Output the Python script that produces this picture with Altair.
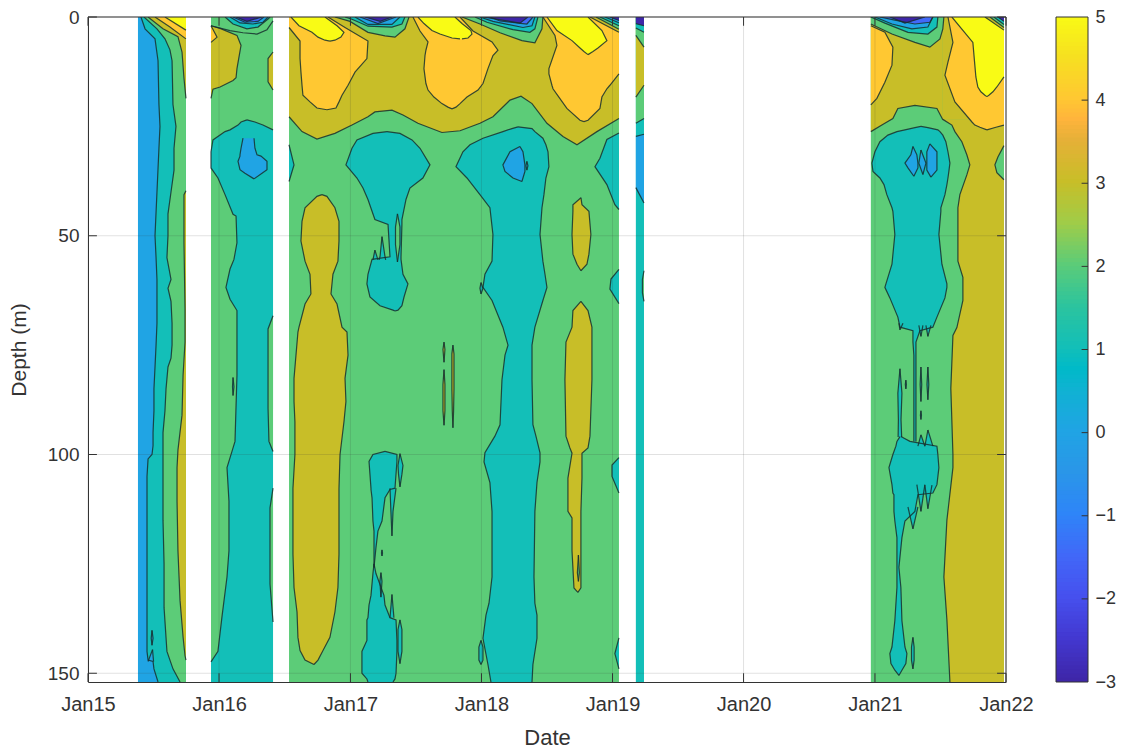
import numpy as np
import pandas as pd
import altair as alt

# Temperature bands (contour fill value)
IN, D1, BL, TE, GR, OL, GO, YE = -3, -1.5, 0, 1, 2, 3, 4, 5

# Time is in years since Jan 2015; depth in metres.
A0, A1, B0, B1, C0, C1, D0, D1X, E0, E1 = .381, .747, .938, 1.411, 1.533, 4.049, 4.178, 4.24, 5.97, 6.985
EDGES = {A0, A1, B0, B1, C0, C1, D0, D1X, E0, E1}
MAX_DEPTH = 152

# ---- bands whose boundary is read as depth against time: (level, times, bottom, top, outline)
under = [
    (BL, [A0, A1], [MAX_DEPTH] * 2, None, False),
    (GR, [B0, B1], [MAX_DEPTH] * 2, None, False),
    (GR, [C0, C1], [MAX_DEPTH] * 2, None, False),
    (GR, [E0, E1], [MAX_DEPTH] * 2, None, False),
    (TE, [D0, D1X], [MAX_DEPTH] * 2, None, False),
    (BL, [D0, D1X], [39, 42.5], [27.3, 26.8], True),
    (GR, [D0, D1X], [24.3, 23.2], None, True),
    (OL, [D0, D1X], [18.3, 15.6], None, True),
    (GR, [D0, D1X], [4.2, 6.9], None, True),
    (TE, [D0, D1X], [2.5, 3.5], None, True),
    (IN, [D0, D1X], [1.5, 2], None, True),
    (OL, [1.533, 1.632, 1.746, 1.883, 2.013, 2.135, 2.188, 2.318, 2.402, 2.516, 2.699, 2.837, 2.989, 3.088,
          3.218, 3.302, 3.386, 3.5, 3.622, 3.729, 3.881, 4.049],
     [22.8, 26.2, 27.9, 26.6, 24.7, 22.8, 21.7, 21.3, 22.4, 24.3, 26.4, 26, 24.3, 22.8,
      19, 18.1, 19.8, 24.3, 27.3, 29.2, 26.2, 23.2], None, True),
    (OL, [5.97, 6.054, 6.138, 6.176, 6.306, 6.474, 6.519], [26.2, 24.7, 23.2, 20.9, 20.2, 20.9, 23.5], None, True),
    (OL, [6.519, 6.985], [23.5, 23.5], None, False),
]

# ---- regions read as time extent against depth: (level, [(depth, from, to), ...])
seg_a = [
    (TE, [(0, .404, A1), (2.7, .435, A1), (5, .511, A1), (10, .534, A1), (20, .541, A1), (25, .549, A1), (30, .541, A1),
          (40, .526, A1), (50, .511, A1), (55, .519, A1), (60, .526, A1), (65, .526, A1), (70, .526, A1), (75, .519, A1),
          (80, .511, A1), (85, .503, A1), (90, .503, A1), (95, .496, A1), (98, .496, A1), (100, .488, A1), (101, .458, A1),
          (105, .45, A1), (120, .45, A1), (130, .45, A1), (140, .45, A1), (145, .45, A1), (147, .458, A1), (147.3, .496, A1),
          (149, .503, A1), (152, .534, A1)]),
    (BL, [(144.6, .492, .492), (147.3, .458, .5)]),
    (BL, [(140.2, .488, .488), (142, .482, .496), (143.6, .488, .488)]),
    (GR, [(0, .427, A1), (2.7, .526, A1), (5, .587, A1), (7.5, .625, A1), (10, .641, A1), (20, .648, A1), (25, .671, A1),
          (30, .656, A1), (35, .656, A1), (40, .633, A1), (45, .61, A1), (50, .61, A1), (55, .602, A1), (60, .633, A1),
          (62, .61, A1), (65, .633, A1), (70, .641, A1), (75, .641, A1), (78, .633, A1), (80, .61, A1), (85, .595, A1),
          (90, .587, A1), (95, .572, A1), (100, .572, A1), (115, .572, A1), (125, .58, A1), (135, .58, A1), (145, .602, A1),
          (147, .625, A1), (149, .648, A1), (152, .702, A1)]),
    (OL, [(0, .458, A1), (2.7, .572, A1), (4.5, .686, A1), (8, .717, A1), (14, .732, A1), (18.6, A1, A1)]),
    (GO, [(0, .511, A1), (2.3, .625, A1), (5, A1, A1)]),
    (YE, [(0, .587, A1), (3, A1, A1)]),
    (OL, [(39.7, A1, A1), (40.6, .732, A1), (51.6, .732, A1), (66.7, .74, A1), (74.3, .74, A1), (81.9, .725, A1),
          (91, .717, A1), (99, .686, A1), (103, .679, A1), (110.7, .679, A1), (122, .686, A1), (133.4, .702, A1),
          (141.7, .725, A1), (146, .74, A1), (147, A1, A1)]),
]

seg_b = [
    (OL, [(2, B0, B0), (2.6, B0, 1.007), (4.2, B0, 1.136), (6.5, B0, 1.167), (11.8, B0, 1.136), (13.9, B0, 1.129),
          (14.5, B0, 1.106), (16, B0, 1.007), (16.5, B0, .953), (18.6, B0, B0)]),
    (GO, [(2, B0, B0), (4.6, B0, .984), (5.8, B0, B0)]),
    (OL, [(8, B1, B1), (9.5, 1.373, B1), (14.8, 1.373, B1), (16.7, B1, B1)]),
    (TE, [(23.5, 1.212, 1.212), (24, 1.167, 1.273), (24.7, 1.144, 1.334), (25.8, 1.083, B1), (26.2, 1.045, B1),
          (28.1, .953, B1), (30.8, B0, B1), (34.5, B0, B1), (36.8, .991, B1), (40.6, 1.045, B1), (45.1, 1.106, B1),
          (45.5, 1.129, B1), (51.6, 1.136, B1), (55.4, 1.113, B1), (57.6, 1.083, B1), (61.8, 1.052, B1), (64.5, 1.083, B1),
          (67.1, 1.136, B1), (81.9, 1.136, B1), (97, 1.121, B1), (99.3, 1.098, B1), (103, 1.06, B1), (110.7, 1.075, B1),
          (122, 1.075, B1), (128, 1.06, B1), (137, 1.022, B1), (145, .991, B1), (147.4, B0, B1), (152, B0, B1)]),
    (GR, [(68.3, B1, B1), (71.3, 1.373, B1), (89.5, 1.373, B1), (97, 1.38, B1), (99.3, B1, B1)]),
    (GR, [(107.7, B1, B1), (112.2, 1.388, B1), (129.6, 1.388, B1), (138.3, B1, B1)]),
    (BL, [(27.7, 1.182, 1.266), (30, 1.167, 1.273), (31.5, 1.159, 1.289), (31.8, 1.159, 1.319), (33, 1.144, 1.365),
          (34.9, 1.159, 1.365), (35.7, 1.197, 1.327), (37, 1.266, 1.266)]),
    (TE, [(82.4, 1.106, 1.106), (84.5, 1.102, 1.113), (86.5, 1.106, 1.106)]),
]

seg_c = [
    (GO, [(0, C0, 1.83), (2.4, C0, 1.96), (5.5, 1.617, 2.135), (9.5, 1.617, 2.127), (12.6, 1.624, 2.036), (15.6, 1.632, 1.983),
          (17.9, 1.639, 1.937), (19.4, 1.693, 1.914), (20.8, 1.746, 1.891), (21.2, 1.822, 1.822)]),
    (YE, [(0, 1.548, 1.807), (2, 1.609, 1.899), (3.5, 1.708, 1.952), (4.6, 1.754, 1.929), (5.3, 1.807, 1.883), (5.5, 1.845, 1.845)]),
    (GO, [(0, 2.478, 2.837), (3.2, 2.532, 2.936), (5.7, 2.593, 3.081), (7.6, 2.577, 3.126), (8.8, 2.57, 3.088), (11.8, 2.562, 3.05),
          (15.2, 2.577, 3.012), (16.7, 2.593, 2.974), (18.3, 2.638, 2.89), (19.8, 2.699, 2.837), (20.6, 2.745, 2.806), (21, 2.776, 2.776)]),
    (YE, [(0, 2.516, 2.798), (1.5, 2.562, 2.852), (3.1, 2.623, 2.92), (3.9, 2.684, 2.928), (4.8, 2.776, 2.898), (5, 2.837, 2.852)]),
    (GO, [(0, 3.469, C1), (4.2, 3.561, C1), (6.5, 3.576, C1), (11.8, 3.515, C1), (13, 3.515, C1), (15.6, 3.538, 3.98),
          (16.4, 3.546, 3.957), (18.3, 3.591, 3.919), (20.9, 3.652, 3.904), (23.6, 3.752, 3.813), (23.9, 3.782, 3.782)]),
    (YE, [(0, 3.5, 3.813), (3.1, 3.576, 3.919), (5.4, 3.691, 3.957), (7.1, 3.752, 3.889), (7.9, 3.782, 3.851), (8.6, 3.813, 3.813)]),
    (TE, [(29.2, C0, C0), (33.8, C0, 1.571), (37.6, C0, C0)]),
    (TE, [(26.2, 2.28, 2.28), (26.6, 2.173, 2.379), (28.1, 2.051, 2.471), (30, 2.013, 2.532), (33.8, 1.967, 2.608), (36.8, 2.051, 2.554),
          (39.1, 2.097, 2.455), (41.7, 2.135, 2.425), (46.3, 2.188, 2.394), (47.4, 2.288, 2.394), (54.8, 2.303, 2.387), (55.4, 2.166, 2.387),
          (58.8, 2.135, 2.402), (61, 2.127, 2.44), (64, 2.15, 2.41), (66, 2.227, 2.394), (67, 2.326, 2.364), (67.2, 2.341, 2.341)]),
    (TE, [(50.2, 2.242, 2.242), (54.8, 2.227, 2.265), (55.5, 2.22, 2.27)]),
    (TE, [(53.3, 2.188, 2.188), (55.5, 2.173, 2.211)]),
    (GR, [(45, 2.36, 2.36), (48, 2.345, 2.379), (52, 2.345, 2.379), (56, 2.36, 2.36)]),
    (OL, [(40.6, 1.784, 1.784), (41, 1.746, 1.822), (43.6, 1.655, 1.883), (46.7, 1.632, 1.914), (51.2, 1.624, 1.914), (55.8, 1.655, 1.906),
          (58.8, 1.693, 1.868), (63.3, 1.7, 1.853), (65.6, 1.655, 1.899), (70.9, 1.609, 1.937), (72, 1.601, 1.975), (77.3, 1.586, 1.983),
          (82.6, 1.571, 1.96), (87.9, 1.571, 1.967), (92.5, 1.578, 1.952), (100, 1.578, 1.922), (107.7, 1.563, 1.914), (122.8, 1.563, 1.914),
          (130.4, 1.571, 1.906), (136, 1.594, 1.883), (141.8, 1.601, 1.845), (144.8, 1.617, 1.792), (147, 1.655, 1.754), (148, 1.723, 1.723)]),
    (OL, [(74.3, 2.715, 2.715), (76, 2.707, 2.722), (78.9, 2.715, 2.715)]),
    (OL, [(80.6, 2.715, 2.715), (84, 2.707, 2.722), (90, 2.707, 2.722), (93.3, 2.715, 2.715)]),
    (OL, [(75, 2.783, 2.783), (77, 2.775, 2.791), (85, 2.775, 2.791), (90, 2.778, 2.788), (93.9, 2.783, 2.783)]),
    (TE, [(99.3, 2.265, 2.265), (100, 2.173, 2.356), (101.6, 2.143, 2.356), (107.7, 2.158, 2.341), (108, 2.158, 2.303), (109.9, 2.166, 2.265),
          (115.2, 2.173, 2.242), (117.5, 2.181, 2.211), (121.3, 2.181, 2.196), (125.8, 2.181, 2.181)]),
    (TE, [(107.7, 2.303, 2.349), (113, 2.31, 2.326), (118.6, 2.318, 2.318)]),
    (TE, [(99.8, 2.379, 2.379), (102.5, 2.364, 2.402), (104.5, 2.368, 2.394), (107.4, 2.379, 2.379)]),
    (TE, [(121.8, 2.242, 2.242), (122.5, 2.238, 2.246), (123.2, 2.242, 2.242)]),
    (TE, [(127, 2.234, 2.234), (129, 2.226, 2.242), (132.6, 2.234, 2.234)]),
    (TE, [(125, 2.181, 2.181), (127.2, 2.173, 2.196), (132.2, 2.158, 2.257), (134.4, 2.143, 2.265), (137.3, 2.135, 2.303), (137.8, 2.127, 2.349),
          (142.5, 2.127, 2.356), (143.5, 2.112, 2.356), (145, 2.089, 2.356), (150, 2.089, 2.349), (151.3, 2.127, 2.341), (152, 2.135, 2.326)]),
    (TE, [(132, 2.318, 2.318), (137.3, 2.303, 2.333)]),
    (TE, [(137.8, 2.379, 2.379), (140, 2.364, 2.394), (145, 2.364, 2.394), (147.8, 2.379, 2.379)]),
    (TE, [(25.1, 3.279, 3.279), (25.5, 3.233, 3.386), (26.2, 3.164, 3.408), (27.7, 3.012, 3.469), (29.2, 2.913, 3.492), (30.8, 2.859, 3.508),
          (34.2, 2.806, 3.515), (36.8, 2.89, 3.492), (40.6, 2.989, 3.477), (43.6, 3.065, 3.462), (49.7, 3.088, 3.447), (55.8, 3.081, 3.469),
          (58.8, 3.027, 3.485), (61.8, 3.012, 3.5), (64.8, 3.081, 3.469), (70.9, 3.164, 3.408), (75, 3.203, 3.386), (77.3, 3.18, 3.386),
          (82.9, 3.157, 3.386), (93.2, 3.142, 3.393), (95.8, 3.103, 3.416), (99.6, 3.027, 3.447), (101.7, 3.02, 3.447), (106.4, 3.065, 3.424),
          (113, 3.081, 3.408), (128, 3.081, 3.401), (134, 3.058, 3.408), (136.7, 3.035, 3.424), (142, 3.012, 3.424), (148, 3.05, 3.393), (152, 3.073, 3.386)]),
    (TE, [(142.5, 2.997, 2.997), (144, 2.981, 3.012), (147, 2.981, 3.012), (148, 2.997, 2.997)]),
    (TE, [(60.7, 2.997, 2.997), (62, 2.989, 3.012), (63.3, 2.997, 2.997)]),
    (BL, [(29.6, 3.294, 3.294), (30.8, 3.218, 3.317), (33.8, 3.164, 3.332), (35.3, 3.18, 3.332), (36.8, 3.241, 3.317), (37.6, 3.309, 3.309)]),
    (BL, [(33, 3.347, 3.347), (34, 3.34, 3.355), (35, 3.347, 3.347)]),
    (TE, [(26.5, C1, C1), (28, 3.957, C1), (32.3, 3.904, C1), (34.2, 3.866, C1), (38.3, 3.957, C1), (42.9, 4.018, C1), (44, C1, C1)]),
    (TE, [(57.7, C1, C1), (59.9, 3.988, C1), (62.2, 3.98, C1), (65.5, C1, C1)]),
    (TE, [(100.7, C1, C1), (102.4, 3.996, C1), (105, 3.996, C1), (108.8, C1, C1)]),
    (TE, [(141.9, C1, C1), (145.5, 4.018, C1), (149, C1, C1)]),
    (OL, [(41.3, 3.759, 3.759), (42.9, 3.698, 3.767), (44.4, 3.698, 3.82), (49.7, 3.691, 3.835), (54.2, 3.698, 3.82), (56.5, 3.729, 3.805), (58, 3.759, 3.759)]),
    (OL, [(65, 3.759, 3.759), (67.1, 3.698, 3.813), (70.9, 3.691, 3.843), (74.3, 3.645, 3.843), (82.9, 3.637, 3.843), (95.8, 3.645, 3.828), (98.5, 3.675, 3.813),
          (99.7, 3.691, 3.767), (105.4, 3.66, 3.767), (113, 3.66, 3.759), (114.5, 3.691, 3.759), (122, 3.691, 3.759), (130.5, 3.706, 3.759), (131.5, 3.736, 3.736)]),
    (GR, [(123, 3.74, 3.74), (127, 3.732, 3.747), (129, 3.74, 3.74)]),
    (GR, [(58, D1X, D1X), (60, 4.228, D1X), (63, 4.228, D1X), (65, D1X, D1X)]),
]

seg_e = [
    (OL, [(23.4, 6.519, E1), (24.7, 6.588, E1), (26.2, 6.611, E1), (28.5, 6.664, E1), (31.5, 6.702, E1), (33.8, 6.725, E1), (36.1, 6.702, E1),
          (40.6, 6.649, E1), (43.6, 6.634, E1), (55.8, 6.634, E1), (59.5, 6.672, E1), (64.8, 6.672, E1), (71, 6.626, E1), (72.8, 6.596, E1),
          (84.9, 6.58, E1), (100, 6.596, E1), (103, 6.596, E1), (115, 6.55, E1), (128, 6.527, E1), (137.8, 6.55, E1), (152, 6.573, E1)]),
    (GR, [(29.4, E1, E1), (32, 6.939, E1), (33.8, 6.916, E1), (35.6, 6.931, E1), (37.2, E1, E1)]),
    (GO, [(2, E0, E0), (3.5, E0, 6.077), (6.9, E0, 6.138), (11, E0, 6.131), (14.9, E0, 6.077), (18.6, E0, 6.016), (20.1, E0, E0)]),
    (GO, [(0, 6.558, E1), (5.8, 6.596, E1), (10.3, 6.558, E1), (13.3, 6.535, E1), (19.4, 6.611, E1), (24, 6.741, E1), (24.7, 6.763, E1),
          (25.2, 6.802, 6.924), (25.8, 6.855, 6.855)]),
    (YE, [(0, 6.588, E1), (5.8, 6.748, E1), (11, 6.763, E1), (13.7, 6.771, E1), (16, 6.786, 6.931), (17.1, 6.809, 6.901), (17.9, 6.84, 6.87), (18.2, 6.855, 6.855)]),
    (TE, [(25, 6.352, 6.352), (25.3, 6.306, 6.405), (25.8, 6.23, 6.481), (26.2, 6.169, 6.497), (27, 6.1, 6.519), (28.5, 6.039, 6.542), (30.8, 6.001, 6.558),
          (33.4, 5.978, 6.573), (35.3, 5.986, 6.565), (36.8, 6.039, 6.558), (38.3, 6.07, 6.55), (40.6, 6.092, 6.535), (43.6, 6.131, 6.504), (44.4, 6.138, 6.504),
          (49.7, 6.153, 6.489), (56.5, 6.131, 6.512), (61, 6.085, 6.55), (61.8, 6.077, 6.55), (64.2, 6.115, 6.535), (68.6, 6.176, 6.474), (70.9, 6.192, 6.443),
          (71.7, 6.291, 6.344), (74.3, 6.291, 6.314), (77.3, 6.298, 6.314), (92.5, 6.298, 6.314), (95.6, 6.298, 6.314), (97, 6.298, 6.314)]),
    (TE, [(70.5, 6.336, 6.367), (73, 6.352, 6.352)]),
    (TE, [(70.5, 6.39, 6.428), (73, 6.405, 6.405)]),
    (TE, [(70, 6.184, 6.215), (71.5, 6.192, 6.192)]),
    (TE, [(95.9, 6.192, 6.199), (97, 6.169, 6.268), (98.1, 6.161, 6.474), (100, 6.138, 6.481), (103, 6.108, 6.489), (106.9, 6.131, 6.474), (108.8, 6.138, 6.443),
          (109.2, 6.146, 6.329), (113, 6.146, 6.306), (115.2, 6.153, 6.23), (119, 6.169, 6.207), (125.8, 6.169, 6.184), (130.4, 6.169, 6.199), (138, 6.153, 6.207),
          (144, 6.131, 6.23), (145.5, 6.115, 6.245), (147.8, 6.123, 6.237), (149.3, 6.153, 6.207), (150.5, 6.184, 6.184)]),
    (TE, [(106.9, 6.321, 6.382), (113, 6.352, 6.352)]),
    (TE, [(107, 6.382, 6.436), (112.4, 6.405, 6.405)]),
    (TE, [(112, 6.253, 6.329), (117, 6.291, 6.291)]),
    (TE, [(94.4, 6.405, 6.405), (98.1, 6.382, 6.443)]),
    (TE, [(95.5, 6.352, 6.352), (98.1, 6.329, 6.382)]),
    (TE, [(80.4, 6.192, 6.192), (86, 6.176, 6.207), (92, 6.18, 6.2), (96, 6.178, 6.205)]),
    (TE, [(83, 6.237, 6.237), (84, 6.233, 6.241), (85, 6.237, 6.237)]),
    (TE, [(80, 6.352, 6.352), (84, 6.346, 6.358), (87.9, 6.352, 6.352)]),
    (TE, [(80, 6.405, 6.405), (84, 6.398, 6.412), (87.5, 6.405, 6.405)]),
    (TE, [(90, 6.352, 6.352), (91, 6.348, 6.356), (92, 6.352, 6.352)]),
    (TE, [(141.8, 6.291, 6.291), (144, 6.28, 6.3), (147, 6.28, 6.3), (149, 6.291, 6.291)]),
    (BL, [(29.6, 6.291, 6.291), (31.5, 6.275, 6.321), (33.4, 6.23, 6.329), (34.5, 6.253, 6.329), (36.4, 6.298, 6.298)]),
    (BL, [(30.4, 6.352, 6.352), (33.4, 6.336, 6.39), (36, 6.367, 6.367)]),
    (BL, [(29, 6.42, 6.42), (30.8, 6.397, 6.474), (35, 6.397, 6.474), (36.6, 6.428, 6.428)]),
]

# ---- near-surface tongues, drawn last: (level, times, bottom)
surface = [
    (GR, [.938, 1.083, 1.182, 1.289, 1.365, 1.411], [2, 3.1, 3.6, 3.9, 2.9, .9]),
    (TE, [1.045, 1.106, 1.212, 1.296, 1.373, 1.388], [0, 1.6, 2.7, 2.3, .45, 0]),
    (BL, [1.083, 1.159, 1.258, 1.334, 1.373], [0, 1.35, 1.6, 1.2, 0]),
    (D1, [1.106, 1.197, 1.296, 1.342], [0, 1.2, 1, 0]),
    (IN, [1.129, 1.212, 1.327], [0, 1, 0]),
    (GR, [1.883, 1.998, 2.135, 2.265, 2.341, 2.417, 2.448], [0, 1, 3.5, 4.3, 4.6, 2.7, 0]),
    (TE, [1.96, 2.013, 2.135, 2.318, 2.394, 2.417], [0, .5, 2.1, 2.3, 1.6, 0]),
    (BL, [2.036, 2.135, 2.318, 2.379], [0, 1.7, 1.7, 0]),
    (D1, [2.074, 2.211, 2.349], [0, 1.5, 0]),
    (IN, [2.112, 2.227, 2.318], [0, 1, 0]),
    (GR, [2.852, 2.989, 3.142, 3.309, 3.408, 3.462, 3.469], [0, 1.6, 3.6, 5.4, 5.9, 2.7, 0]),
    (TE, [2.951, 3.042, 3.241, 3.37, 3.408, 3.431], [0, 1.2, 2.9, 3.5, 2.7, 0]),
    (BL, [2.989, 3.088, 3.317, 3.386, 3.408], [0, 1, 2.4, 2, 0]),
    (D1, [3.065, 3.142, 3.347, 3.393], [0, .9, 1.6, 0]),
    (IN, [3.012, 3.294, 3.355], [0, 1.4, 0]),
    (OL, [3.828, 4.049], [0, 3.5]),
    (GR, [3.874, 4.049], [0, 2.8]),
    (TE, [3.904, 4.049], [0, 2]),
    (BL, [3.942, 4.049], [0, 1.3]),
    (IN, [3.98, 4.049], [0, .8]),
    (GR, [5.97, 6.131, 6.306, 6.42, 6.497, 6.519, 6.527], [1.6, 3.9, 5.8, 6.9, 5, 2.7, 0]),
    (TE, [5.97, 6.077, 6.253, 6.405, 6.474, 6.481], [0, 1.4, 3.5, 3.9, 2.3, 0]),
    (BL, [6.001, 6.131, 6.283, 6.405, 6.443], [0, 1.6, 2.7, 2.3, 0]),
    (D1, [6.039, 6.153, 6.306, 6.42, 6.443], [0, .7, 1.6, 1.2, 0]),
    (IN, [6.115, 6.23, 6.382], [0, 1.4, 0]),
    (OL, [6.84, 6.985], [0, 3]),
    (GR, [6.878, 6.985], [0, 2.4]),
    (TE, [6.908, 6.985], [0, 1.7]),
    (IN, [6.939, 6.985], [0, 1]),
]

tick_years = [2015, 2016, 2017, 2018, 2019, 2020, 2021, 2022]
depth_ticks = [0, 50, 100, 150]
bar_ticks = [-3, -2, -1, 0, 1, 2, 3, 4, 5]
color_domain = [-3, -2.5, -2, -1.5, -1, -.5, 0, .5, .75, 1, 1.5, 2, 2.5, 3, 3.5, 3.75, 4, 4.5, 5]
color_range = ["#3e26a8", "#4338d0", "#4650ee", "#4168f8", "#2e85f8", "#2a96e8", "#20a4e4", "#0fb2d2", "#00bac8", "#13bfb8",
               "#2cc49e", "#5ccc78", "#a0cc48", "#c8be28", "#e6b038", "#ffb43c", "#ffc832", "#f6e020", "#f9fb15"]

INK = "#333333"
FONT = "Liberation Sans"
ORIGIN = pd.Timestamp("2015-01-01")


def when(y):
    return ORIGIN + pd.to_timedelta(np.asarray(y, dtype=float) * 365.25, unit="D")


xs = alt.Scale(domain=[alt.DateTime(year=2015, month="jan", date=1), alt.DateTime(year=2022, month="jan", date=1)])
ys = alt.Scale(domain=[0, MAX_DEPTH], reverse=True, nice=False, zero=False)
cs = alt.Scale(domain=color_domain, range=color_range, interpolate="rgb")
color = alt.Color("v:Q", scale=cs, legend=None)

x_axis = alt.Axis(
    values=[alt.DateTime(year=y, month="jan", date=1) for y in tick_years], format="%b%y", title="Date",
    grid=False, ticks=False, labelFont=FONT, titleFont=FONT, labelFontSize=20, titleFontSize=22, titleFontWeight="normal",
    labelColor=INK, titleColor=INK, domainColor=INK, labelPadding=12, titlePadding=13, zindex=1, labelFlush=False,
    labelOverlap=False,
)
y_axis = alt.Axis(
    values=depth_ticks, title="Depth (m)", grid=False, ticks=False, labelFont=FONT, titleFont=FONT, labelFontSize=19,
    titleFontSize=21, titleFontWeight="normal", labelColor=INK, titleColor=INK, domainColor=INK, labelPadding=9,
    titlePadding=18, zindex=1,
)


def X(field):
    return alt.X(field, type="temporal", scale=xs, axis=x_axis)


def Y(field, **kw):
    return alt.Y(field, type="quantitative", scale=ys, axis=y_axis, **kw)


layers = []
line_rows = []
uid = [0]


def add_line(xv, ds):
    uid[0] += 1
    for i, (x, d) in enumerate(zip(xv, ds)):
        line_rows.append(dict(id=uid[0], i=i, x=x, d=d))


def add_side(ds, xv):
    """outline one side of a region, leaving out runs along a data-gap edge"""
    free = [x not in EDGES for x in xv]
    keep = [free[i] or (i > 0 and free[i - 1]) or (i + 1 < len(xv) and free[i + 1]) for i in range(len(xv))]
    run_x, run_d = [], []
    for x, d, k in zip(xv, ds, keep):
        if k:
            run_x.append(x)
            run_d.append(d)
        elif run_x:
            add_line(run_x, run_d)
            run_x, run_d = [], []
    if run_x:
        add_line(run_x, run_d)


def band_layer(level, ts, bottom, top):
    df = pd.DataFrame({"x": when(ts), "y0": top, "y1": bottom, "v": level})
    return alt.Chart(df).mark_area(clip=True).encode(x=X("x"), y=Y("y0", stack=False), y2="y1:Q", color=color)


def blob_layer(level, rows):
    df = pd.DataFrame({"d": [r[0] for r in rows], "x0": when([r[1] for r in rows]), "x1": when([r[2] for r in rows]), "v": level})
    return alt.Chart(df).mark_area(orient="horizontal", clip=True).encode(
        y=Y("d", stack=False), x=X("x0"), x2="x1:T", color=color)


for level, ts, bottom, top, outline in under:
    top = top or [0] * len(ts)
    layers.append(band_layer(level, ts, bottom, top))
    if outline:
        add_line(ts, bottom)
        if any(top):
            add_line(ts, top)

for seg in (seg_a, seg_b, seg_c, seg_e):
    for level, rows in seg:
        layers.append(blob_layer(level, rows))
        ds = [r[0] for r in rows]
        add_side(ds, [r[1] for r in rows])
        add_side(ds, [r[2] for r in rows])

for level, ts, bottom in surface:
    layers.append(band_layer(level, ts, bottom, [0] * len(ts)))
    add_line(ts, bottom)

line_df = pd.DataFrame(line_rows)
line_df["x"] = when(line_df["x"])
lines = alt.Chart(line_df).mark_line(color="#17302f", strokeWidth=1.2, opacity=.85, clip=True).encode(
    x=X("x"), y=Y("d"), detail="id:N", order="i:Q")

year_df = pd.DataFrame({"x": [pd.Timestamp(year=y, month=1, day=1) for y in tick_years]})
depth_df = pd.DataFrame({"d": depth_ticks})
grid_x = alt.Chart(year_df).mark_rule(color=INK, opacity=.15).encode(x=X("x"))
grid_y = alt.Chart(depth_df).mark_rule(color=INK, opacity=.15).encode(y=Y("d"))

tick_len_d = 2.0
tick_len_t = pd.to_timedelta(.068 * 365.25, unit="D")
bottom_ticks = alt.Chart(year_df.assign(y0=MAX_DEPTH, y1=MAX_DEPTH - tick_len_d)).mark_rule(color=INK).encode(
    x=X("x"), y=Y("y0"), y2="y1:Q")
top_ticks = alt.Chart(year_df.assign(y0=0, y1=tick_len_d)).mark_rule(color=INK).encode(
    x=X("x"), y=Y("y0"), y2="y1:Q")
left = pd.Timestamp("2015-01-01")
right = pd.Timestamp("2022-01-01")
left_ticks = alt.Chart(depth_df.assign(a=left, b=left + tick_len_t)).mark_rule(color=INK).encode(
    y=Y("d"), x=X("a"), x2="b:T")
right_ticks = alt.Chart(depth_df.assign(a=right - tick_len_t, b=right)).mark_rule(color=INK).encode(
    y=Y("d"), x=X("a"), x2="b:T")
top_edge = alt.Chart(pd.DataFrame({"d": [0]})).mark_rule(color=INK).encode(y=Y("d"))
right_edge = alt.Chart(pd.DataFrame({"x": [right]})).mark_rule(color=INK).encode(x=X("x"))

main = alt.layer(*layers, lines, grid_x, grid_y, bottom_ticks, top_ticks, left_ticks, right_ticks,
                 top_edge, right_edge).properties(width=918, height=665)

# colour bar
cells = pd.DataFrame({"v": np.arange(-3, 5, .05)})
cells["lo"] = cells["v"]
cells["hi"] = (cells["v"] + .08).clip(upper=5)
cells["a"], cells["b"] = 0, 1
bx = alt.X("a:Q", scale=alt.Scale(domain=[0, 1], nice=False, zero=False), axis=None)
by_scale = alt.Scale(domain=[-3, 5], nice=False, zero=False)
by_axis = alt.Axis(orient="right", values=bar_ticks, title=None, grid=False, ticks=False, labelFont=FONT, labelFontSize=18,
                   labelColor=INK, domain=False, labelPadding=7, format="d")
ramp = alt.Chart(cells).mark_rect().encode(
    x=bx, x2="b:Q", y=alt.Y("lo:Q", scale=by_scale, axis=by_axis), y2="hi:Q", color=color)
frame = alt.Chart(pd.DataFrame({"a": [0], "b": [1], "lo": [-3], "hi": [5]})).mark_rect(
    fillOpacity=0, stroke=INK, strokeWidth=1).encode(
    x=bx, x2="b:Q", y=alt.Y("lo:Q", scale=by_scale, axis=by_axis), y2="hi:Q")
bar_tick = alt.Chart(pd.DataFrame({"v": bar_ticks[1:-1], "a": [.8] * 7, "b": [1] * 7})).mark_rule(color=INK).encode(
    x=bx, x2="b:Q", y=alt.Y("v:Q", scale=by_scale, axis=by_axis))
bar = alt.layer(ramp, frame, bar_tick).properties(width=32, height=665)

chart = alt.hconcat(main, bar, spacing=50, bounds="flush",
                    padding={"left": 0, "top": 0, "right": 0, "bottom": 0}).configure_view(stroke=None)

chart.save("out.html", embed_options={"renderer": "svg", "actions": False})
